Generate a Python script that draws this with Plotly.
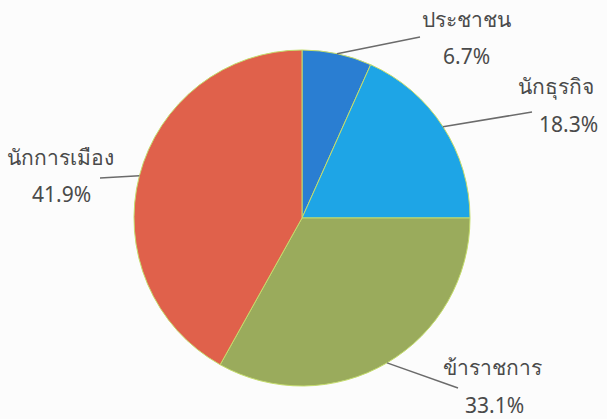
import math
import plotly.graph_objects as go

# ==========================================
# Data
# ==========================================

labels = ["ประชาชน", "นักธุรกิจ", "ข้าราชการ", "นักการเมือง"]
values = [6.7, 18.3, 33.1, 41.9]
colors = ["#2a7ed2", "#1ea5e6", "#9aab5c", "#e0614b"]

W, H = 607, 419
CX, CY, R = 302, 218, 168

# label placement (pixels): line end, label centre, percent centre
line_ends = [(420, 37), (532, 112), (458, 388), (100, 178)]
label_pos = [(466, 19), (556, 86), (492, 367), (60, 157)]
pct_pos = [(466, 56), (568, 124), (494, 405), (61, 194)]

# ==========================================
# Pie
# ==========================================

fig = go.Figure(
    go.Pie(
        labels=labels,
        values=values,
        sort=False,
        direction="clockwise",
        rotation=0,
        marker=dict(colors=colors, line=dict(color="#c4dc6c", width=1)),
        textinfo="none",
        hoverinfo="label+percent",
        domain=dict(
            x=[(CX - R) / W, (CX + R) / W],
            y=[1 - (CY + R) / H, 1 - (CY - R) / H],
        ),
    )
)


def px(x, y):
    return x / W, 1 - y / H


total = sum(values)
shapes = []
annotations = []
cum = 0
for i, v in enumerate(values):
    mid = (cum + v / 2) / total * 2 * math.pi
    cum += v
    ax = CX + R * math.sin(mid)
    ay = CY - R * math.cos(mid)
    x0, y0 = px(ax, ay)
    x1, y1 = px(*line_ends[i])
    shapes.append(dict(
        type="line", xref="paper", yref="paper",
        x0=x0, y0=y0, x1=x1, y1=y1,
        line=dict(color="#6b6b6b", width=1.5),
    ))
    lx, ly = px(*label_pos[i])
    annotations.append(dict(
        x=lx, y=ly, xref="paper", yref="paper", text=labels[i],
        showarrow=False, xanchor="center", yanchor="middle",
        font=dict(size=21, color="#4a4a4a"),
    ))
    qx, qy = px(*pct_pos[i])
    annotations.append(dict(
        x=qx, y=qy, xref="paper", yref="paper", text=f"{v:.1f}%",
        showarrow=False, xanchor="center", yanchor="middle",
        font=dict(size=21, color="#4a4a4a"),
    ))

fig.update_layout(
    width=W,
    height=H,
    margin=dict(l=0, r=0, t=0, b=0),
    paper_bgcolor="#fcfcfc",
    plot_bgcolor="#fcfcfc",
    showlegend=False,
    font=dict(family="Noto Sans, DejaVu Sans, sans-serif"),
    shapes=shapes,
    annotations=annotations,
)

fig.write_html(
    "out.html",
    config={"displayModeBar": False},
    post_script="document.body.style.margin='0';document.body.style.overflow='hidden';",
)
